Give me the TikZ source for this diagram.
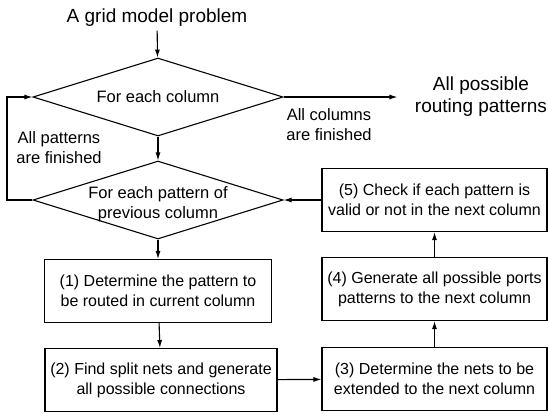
\documentclass[tikz,border=0pt]{standalone}
\usepackage{fontspec}
\setmainfont{Liberation Sans}
\usetikzlibrary{arrows.meta,shapes.geometric,positioning}

\tikzset{
  process/.style={rectangle, draw, line width=1.1pt, minimum height=63pt, align=center, inner sep=2pt, font=\fontsize{16}{20}\selectfont},
  decision/.style={diamond, draw, line width=1.1pt, minimum width=250pt, minimum height=78pt, inner sep=0pt},
  note/.style={align=center, font=\fontsize{16.5}{20}\selectfont},
  big/.style={align=center, font=\fontsize{19}{22}\selectfont},
}

\begin{document}
\begin{tikzpicture}[x=1pt,y=-1pt,>={Latex[length=8pt,width=5pt]},line width=1.1pt]
      \useasboundingbox (0,0) rectangle (548,413);
      \node[big] at (157,18) (start) {A grid model problem};
      \node[decision, label={[note]center:For each column}] at (158,97) (col) {};
      \node[decision, label={[note,yshift=-4pt]center:{For each pattern of\\previous column}}] at (158,200) (pat) {};
      \node[big, inner xsep=17pt] at (481,97) (result) {All possible\\routing patterns};
      \node[note] at (329,125) (colsdone) {All columns\\are finished};
      \node[note] at (59,148) (patsdone) {All patterns\\are finished};
      \node[process, minimum width=227pt] at (158,291) (determine) {(1) Determine the pattern to\\be routed in current column};
      \node[process, minimum width=232pt] at (161,380) (split) {(2) Find split nets and generate\\all possible connections};
      \node[process, minimum width=225pt] at (434.5,379) (extend) {(3) Determine the nets to be\\extended to the next column};
      \node[process, minimum width=225pt] at (434.5,289) (ports) {(4) Generate all possible ports\\patterns to the next column};
      \node[process, minimum width=225pt] at (434.5,200) (check) {(5) Check if each pattern is\\valid or not in the next column};
      \coordinate (loop) at (7,200);
      \draw[->] (start) -- (col);
      \draw[->] (col.east) -- (result.west);
      \draw[->] (col) -- (pat);
      \draw[->] (pat) -- (determine);
      \draw[->] (determine) -- (split);
      \draw[->] (split) -- (extend);
      \draw[->] (extend) -- (ports);
      \draw[->] (ports) -- (check);
      \draw[->] (check.west) -- (pat.east);
      \draw[->] (pat.west) -- (loop) |- (col.west);
\end{tikzpicture}
\end{document}
